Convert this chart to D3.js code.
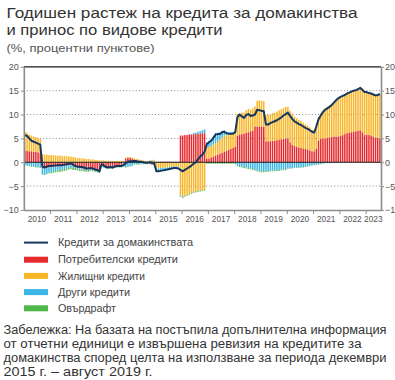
<!DOCTYPE html>
<html><head><meta charset="utf-8">
<script src="https://cdn.jsdelivr.net/npm/d3@7"></script>
<style>body{margin:0;background:#fff;} svg{display:block;font-family:"Liberation Sans",Arial,sans-serif;}</style>
</head><body><svg id="c" width="395" height="380"></svg>
<script>
// ---- data (monthly, Jan 2010 – Jul 2023) ----
const years = [2010,2011,2012,2013,2014,2015,2016,2017,2018,2019,2020,2021,2022,2023];
const yTicks = [-10,-5,0,5,10,15,20];
const seriesNames = ["Потребителски кредити","Жилищни кредити","Други кредити","Овърдрафт"];
const lineName = "Кредити за домакинствата";

const householdGrowth = [
 5.7,5.5,5.0,4.5,4.3,4.1,3.9,3.7, -0.9,-1.1,-0.9,-0.8,
 -0.8,-0.7,-0.7,-0.6,-0.6,-0.6,-0.5,-0.4,-0.3,-0.2,-0.5,-0.8,
 -0.9,-1.0,-1.0,-1.1,-1.3,-1.3,-1.2,-1.3,-1.5,-1.6,-1.9,-0.4,
 -0.7,-1.0,-1.1,-1.0,-1.1,-0.9,-0.8,-0.8,-0.8,-0.6,-0.2,0.1,
 0.2,0.2,0.3,0.2,0.1,0.1,0.0,-0.1,-0.1,0.0,-0.1,-0.2,
 -1.9,-1.9,-1.8,-1.7,-1.6,-1.5,-1.4,-1.3,-1.2,-1.2,-1.3, -1.6,
 -1.9,-1.6,-1.3,-1.0,-0.7,-0.3,0.0,0.6,1.2,1.6,2.2, 3.8,
 4.2,4.5,5.1,5.8,5.9,5.9,6.3,6.4,6.1,6.0,6.0,6.0,
 6.3,9.5,10.0,9.6,9.3,9.9,10.1,9.7,9.8,10.0,11.0,10.9,
 10.8,10.7,7.9,7.9,8.2,8.4,8.6,8.8,9.1,9.4,9.8,10.1,
 10.4,9.7,9.1,8.6,8.3,8.0,7.8,7.5,7.2,7.0,6.7,6.4,
 6.2,7.5,9.0,9.8,10.5,11.0,11.3,11.6,12.0,12.5,13.0,13.4,
 13.7,13.9,14.1,14.4,14.6,14.8,15.0,15.1,15.3,15.6,15.2,14.7,
 14.7,14.5,14.4,14.2,14.0,14.1,14.3
];
const consumerLoans = [
 2.4,2.4,2.3,2.3,2.2,2.2,2.1,2.0, -1.2,-1.3,-1.2,-1.1,
 -1.0,-1.0,-0.9,-0.9,-0.8,-0.8,-0.7,-0.7,-0.6,-0.6,-0.8,-0.9,
 -1.2,-1.3,-1.3,-1.4,-1.5,-1.5,-1.4,-1.5,-1.6,-1.7,-1.8,-0.6,
 -0.8,-1.0,-1.1,-1.0,-1.1,-0.9,-0.8,-0.8,-0.7,0.0,0.8,0.9,
 0.9,0.7,0.5,0.4,0.3,0.2,0.1,0.0,-0.2,-0.3,-0.5,-0.6,
 0.1,0.1,0.1,0.1,0.1,0.1,0.1,0.1,0.1,0.1,0.1, 5.6,
 5.6,5.7,5.7,5.8,5.8,5.9,5.9,6.0,6.0,6.1,6.1, 0.7,
 0.8,1.0,1.2,1.4,1.6,1.8,2.0,2.2,2.4,2.6,2.8,3.0,
 3.2,5.6,5.8,5.9,6.0,6.2,6.3,6.5,6.6,7.5,7.5,7.5,
 7.5,7.4,4.4,4.4,4.4,4.5,4.5,4.6,4.7,4.8,4.9,5.0,
 5.0,4.2,3.7,3.4,3.2,3.1,3.0,2.9,2.8,2.7,2.5,2.3,
 2.3,2.8,4.5,4.9,5.0,5.0,5.1,5.2,5.3,5.4,5.4,5.4,
 5.5,5.7,5.9,6.1,6.2,6.3,6.4,6.5,6.6,6.7,6.3,5.8,
 5.8,5.7,5.6,5.4,5.2,5.1,5.0
];
const housingLoans = [
 4.0,3.8,3.5,3.3,3.2,3.1,3.0,2.9, 1.7,1.6,1.6,1.5,
 1.5,1.5,1.4,1.4,1.4,1.3,1.3,1.3,1.2,1.2,1.1,1.0,
 0.9,0.9,0.8,0.8,0.7,0.7,0.6,0.6,0.5,0.5,0.4,0.4,
 0.4,0.3,0.3,0.3,0.3,0.3,0.3,0.3,0.3,0.3,0.2,0.2,
 0.2,0.3,0.3,0.3,0.3,0.3,0.3,0.3,0.3,0.3,0.4,0.4,
 -1.3,-1.3,-1.2,-1.2,-1.1,-1.1,-1.0,-1.0,-0.9,-0.9,-1.0, -6.9,
 -7.2,-7.0,-6.8,-6.6,-6.4,-6.2,-6.1,-6.0,-5.9,-5.8,-5.7, 2.3,
 2.4,2.4,2.5,2.6,2.7,2.9,3.2,3.4,3.3,3.2,3.1,3.0,
 3.4,4.6,4.4,4.5,4.4,4.7,4.9,4.5,4.7,4.2,5.4,5.5,
 5.4,5.4,5.5,5.5,5.7,5.8,5.9,6.0,6.2,6.3,6.5,6.6,
 6.6,6.6,6.5,6.2,6.0,5.8,5.7,5.4,5.2,5.0,4.8,4.6,
 4.5,5.3,5.0,5.3,5.8,6.3,6.5,6.7,6.9,7.2,7.7,8.1,
 8.3,8.3,8.3,8.4,8.5,8.6,8.7,8.7,8.8,9.0,8.9,9.0,
 9.0,8.9,8.9,8.8,8.8,9.0,9.3
];
const otherLoans = [
 -0.6,-0.6,-0.7,-0.9,-0.9,-1.0,-1.0,-1.1, -1.3,-1.3,-1.2,-1.1,
 -1.0,-0.9,-0.9,-0.8,-0.8,-0.7,-0.7,-0.6,-0.5,-0.4,-0.4,-0.3,
 -0.2,-0.2,-0.2,-0.2,-0.2,-0.2,-0.2,-0.2,-0.2,-0.2,-0.2,-0.2,
 -0.2,-0.2,-0.2,-0.2,-0.2,-0.2,-0.2,-0.2,-0.3,-0.8,-1.0,-0.9,
 -0.8,-0.7,-0.4,-0.4,-0.4,-0.3,-0.3,-0.3,-0.1,0.1,0.1,0.1,
 -0.5,-0.5,-0.5,-0.4,-0.4,-0.3,-0.3,-0.2,-0.2,-0.2,-0.2, -0.1,
 -0.1,0.0,0.0,0.1,0.1,0.2,0.3,0.4,0.5,0.6,0.8, 1.1,
 1.3,1.4,1.7,2.1,1.9,1.5,1.4,1.1,0.7,0.5,0.4,0.3,
 -0.2,-0.6,-0.8,-0.9,-1.0,-1.1,-1.2,-1.3,-1.4,-1.5,-1.7,-1.8,
 -1.9,-1.9,-1.8,-1.8,-1.7,-1.7,-1.6,-1.6,-1.6,-1.5,-1.5,-1.4,
 -1.3,-1.2,-1.2,-1.1,-1.1,-1.1,-1.0,-1.0,-0.9,-0.8,-0.7,-0.6,
 -0.5,-0.5,-0.4,-0.3,-0.3,-0.2,-0.2,-0.2,-0.1,-0.1,-0.1,-0.1,
 -0.1,0.0,0.0,0.0,0.0,0.0,0.0,0.0,0.0,0.0,0.0,0.0,
 0.0,0.0,0.0,0.0,0.0,0.0,0.0
];
const overdraftLoans = [
 -0.1,-0.1,-0.1,-0.1,-0.1,-0.1,-0.1,-0.1, -0.1,-0.1,-0.1,-0.1,
 -0.3,-0.3,-0.3,-0.3,-0.4,-0.4,-0.4,-0.4,-0.4,-0.4,-0.4,-0.4,
 -0.3,-0.3,-0.3,-0.3,-0.3,-0.3,-0.2,-0.2,-0.2,-0.2,-0.2,-0.1,
 -0.1,-0.1,-0.1,-0.1,-0.1,-0.1,-0.1,-0.1,-0.1,-0.1,-0.1,-0.1,
 -0.1,-0.1,-0.1,-0.1,-0.1,-0.1,-0.1,-0.1,-0.1,-0.1,-0.1,-0.1,
 -0.2,-0.2,-0.2,-0.2,-0.2,-0.2,-0.2,-0.2,-0.2,-0.2,-0.2, -0.2,
 -0.2,-0.2,-0.2,-0.2,-0.2,-0.2,-0.2,-0.2,-0.2,-0.2,-0.2, -0.3,
 -0.3,-0.3,-0.3,-0.3,-0.3,-0.3,-0.3,-0.3,-0.3,-0.3,-0.3,-0.3,
 -0.2,-0.2,-0.2,-0.2,-0.2,-0.2,-0.2,-0.2,-0.2,-0.2,-0.2,-0.2,
 -0.2,-0.2,-0.2,-0.2,-0.2,-0.2,-0.2,-0.2,-0.2,-0.2,-0.2,-0.2,
 -0.1,-0.1,-0.1,-0.1,-0.1,-0.1,-0.1,-0.1,-0.1,-0.1,-0.1,-0.1,
 -0.1,-0.1,-0.1,-0.1,0.0,0.0,0.0,0.0,0.0,0.0,0.0,0.0,
 0.0,0.0,0.0,0.0,0.0,0.0,0.0,0.0,0.0,0.0,0.0,0.0,
 0.0,0.0,0.0,0.0,0.0,0.0,0.0
];

const colors = ["#E62A2E","#F8B526","#3BB5E6","#4DB749"];
const lineColor = "#16385E";

// ---- build ----
const svg = d3.select("#c");
const nM = householdGrowth.length;
const months = d3.range(nM);
const L = 23.8, R = 381, T = 66.8, B = 210;

const x = d3.scaleBand().domain(months).range([L, R]).paddingInner(0.32).paddingOuter(0.16);
const xm = d3.scaleLinear().domain([0, nM]).range([L, R]);
const y = d3.scaleLinear().domain([-10, 20]).range([B, T]);

const keys = ["c","h","o","d"];
const rows = months.map(i => ({c: consumerLoans[i], h: housingLoans[i], o: otherLoans[i], d: overdraftLoans[i]}));
const stacked = d3.stack().keys(keys).offset(d3.stackOffsetDiverging)(rows);

// gridlines
svg.append("g").selectAll("line").data([-5,5,10,15]).join("line")
  .attr("x1", L).attr("x2", R).attr("y1", d => y(d)).attr("y2", d => y(d))
  .attr("stroke", "#8a8a8a").attr("stroke-width", 1).attr("stroke-dasharray", "1,2.2");

// bars
svg.append("g").selectAll("g").data(stacked).join("g")
  .attr("fill", (d, k) => colors[k])
  .selectAll("rect").data(d => d.map((v, i) => [v[0], v[1], i])).join("rect")
  .attr("x", d => x(d[2])).attr("width", x.bandwidth())
  .attr("y", d => y(Math.max(d[0], d[1])))
  .attr("height", d => Math.abs(y(d[0]) - y(d[1])));

// top line and zero line
svg.append("line").attr("x1", L).attr("x2", R).attr("y1", y(20)).attr("y2", y(20))
  .attr("stroke", "#1a1a1a").attr("stroke-width", 1.2);
svg.append("line").attr("x1", L).attr("x2", R).attr("y1", y(0)).attr("y2", y(0))
  .attr("stroke", "#1a1a1a").attr("stroke-width", 1);

// household line
svg.append("path").datum(householdGrowth)
  .attr("fill", "none").attr("stroke", lineColor).attr("stroke-width", 2).attr("stroke-linejoin", "round")
  .attr("d", d3.line().x((d, i) => x(i) + x.bandwidth() / 2).y(d => y(d)));

// axes
const axisCol = "#8c8c8c", labCol = "#555";
const gl = svg.append("g").attr("transform", `translate(${L},0)`)
  .call(d3.axisLeft(y).tickValues(yTicks).tickSize(3).tickSizeOuter(0).tickPadding(2));
const gr = svg.append("g").attr("transform", `translate(${R},0)`)
  .call(d3.axisRight(y).tickValues(yTicks).tickSize(3).tickSizeOuter(0).tickPadding(1));
const yearStarts = years.slice(1).map((yr, k) => (k + 1) * 12);
const gb = svg.append("g").attr("transform", `translate(0,${B})`)
  .call(d3.axisBottom(xm).tickValues(yearStarts).tickSize(4).tickSizeOuter(0).tickFormat(""));
[gl, gr, gb].forEach(g => {
  g.select(".domain").attr("stroke", axisCol).attr("stroke-width", 1.6);
  g.selectAll(".tick line").attr("stroke", axisCol);
  g.selectAll("text").attr("fill", labCol).attr("font-size", 9).attr("font-family", '"Liberation Sans",Arial,sans-serif');
});
svg.append("g").selectAll("text").data(years).join("text")
  .attr("x", (yr, k) => (xm(k * 12) + Math.min(xm(k * 12 + 12), R)) / 2)
  .attr("y", 222).attr("text-anchor", "middle").attr("font-size", 9).attr("fill", labCol)
  .attr("textLength", 18.5).attr("lengthAdjust", "spacingAndGlyphs")
  .text(d => d);

// titles
const title = svg.append("g").attr("fill", "#333");
title.append("text").attr("x", 6.5).attr("y", 17.5).attr("font-size", 15.5)
  .attr("textLength", 351).attr("lengthAdjust", "spacingAndGlyphs").text("Годишен растеж на кредита за домакинства");
title.append("text").attr("x", 6.5).attr("y", 34.5).attr("font-size", 15.5)
  .attr("textLength", 216).attr("lengthAdjust", "spacingAndGlyphs").text("и принос по видове кредити");
svg.append("text").attr("x", 6.5).attr("y", 52).attr("font-size", 11).attr("fill", "#555")
  .attr("textLength", 148).attr("lengthAdjust", "spacingAndGlyphs").text("(%, процентни пунктове)");

// legend
const lg = svg.append("g").attr("font-size", 10.5).attr("fill", "#444");
lg.append("line").attr("x1", 24).attr("x2", 48).attr("y1", 242.6).attr("y2", 242.6)
  .attr("stroke", lineColor).attr("stroke-width", 2);
lg.append("text").attr("x", 58).attr("y", 246.3).attr("textLength", 135).attr("lengthAdjust", "spacingAndGlyphs").text(lineName);
const legW = [120, 87, 72, 58];
seriesNames.forEach((n, k) => {
  const cy = 259.7 + k * 16.2;
  lg.append("rect").attr("x", 24).attr("y", cy - 3).attr("width", 24).attr("height", 6).attr("fill", colors[k]);
  lg.append("text").attr("x", 58).attr("y", cy + 3.7).attr("textLength", legW[k]).attr("lengthAdjust", "spacingAndGlyphs").text(n);
});

// note
const noteLines = [
  ["Забележка: На базата на постъпила допълнителна информация", 383],
  ["от отчетни единици е извършена ревизия на кредитите за", 358],
  ["домакинства според целта на използване за периода декември", 383],
  ["2015 г. – август 2019 г.", 149]
];
svg.append("g").attr("fill", "#333").attr("font-size", 12).selectAll("text").data(noteLines).join("text")
  .attr("x", 3.5).attr("y", (d, i) => 334 + i * 14)
  .attr("textLength", d => d[1]).attr("lengthAdjust", "spacingAndGlyphs").text(d => d[0]);
</script>
</body></html>
